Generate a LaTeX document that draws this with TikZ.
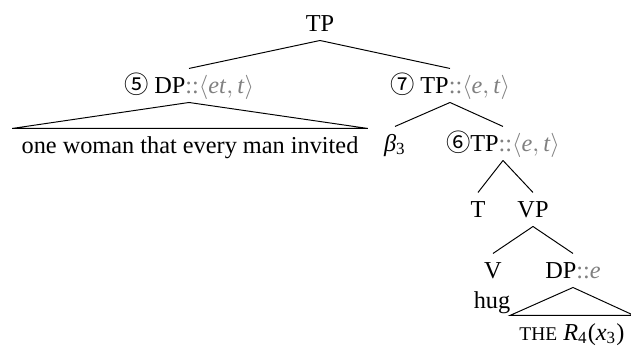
\documentclass[tikz,border=0pt]{standalone}
\usepackage{fontspec}
\setmainfont{Liberation Serif}
\newfontfamily\circfont{Noto Sans CJK SC}
\newcommand{\cnum}[1]{{\circfont\normalsize #1}}
\newcommand{\typ}[1]{\textcolor{gray}{::#1}}
\newcommand{\sub}[1]{\textsubscript{#1}}
\begin{document}
\begin{tikzpicture}[x=0.4115pt, y=-0.4115pt,
	lab/.style={anchor=base, inner sep=0pt, text height=9.9pt, text depth=3.7pt},
	leaf/.style={lab, inner xsep=3.7pt}]
\useasboundingbox (0,0) rectangle (631,345);
\node [lab] (tp) at (320,31) {TP};
\node [lab] (dp) at (189,93) {\cnum{⑤} DP\typ{$\langle$\textit{et}$,$\,\textit{t}$\rangle$}};
\node [lab] (tpa) at (450,93) {\cnum{⑦} TP\typ{$\langle$\textit{e}$,$\,\textit{t}$\rangle$}};
\node [leaf] (woman) at (190,153) {one woman that every man invited};
\node [lab] (beta) at (395,151) {\textit{β}\sub{3}};
\node [lab] (tpb) at (503,151) {\cnum{⑥}TP\typ{$\langle$\textit{e}$,$\,\textit{t}$\rangle$}};
\node [lab] (t) at (478,217) {T};
\node [lab] (vp) at (533,217) {VP};
\node [lab] (v) at (493,278) {V};
\node [lab] (dpe) at (573,278) {DP\typ{\textit{e}}};
\node [lab] (hug) at (492,308) {hug};
\node [leaf] (the) at (572,340) {{\footnotesize THE} \textit{R}\sub{4}(\textit{x}\sub{3})};
\foreach \a/\b in {tp/dp, tp/tpa, tpa/beta, tpa/tpb, tpb/t, tpb/vp, vp/v, vp/dpe}{
	\draw (\a.south) -- (\b.north);
}
\draw (dp.south) -- (woman.north west) -- (woman.north east) -- cycle;
\draw (dpe.south) -- (the.north west) -- (the.north east) -- cycle;
\end{tikzpicture}
\end{document}
